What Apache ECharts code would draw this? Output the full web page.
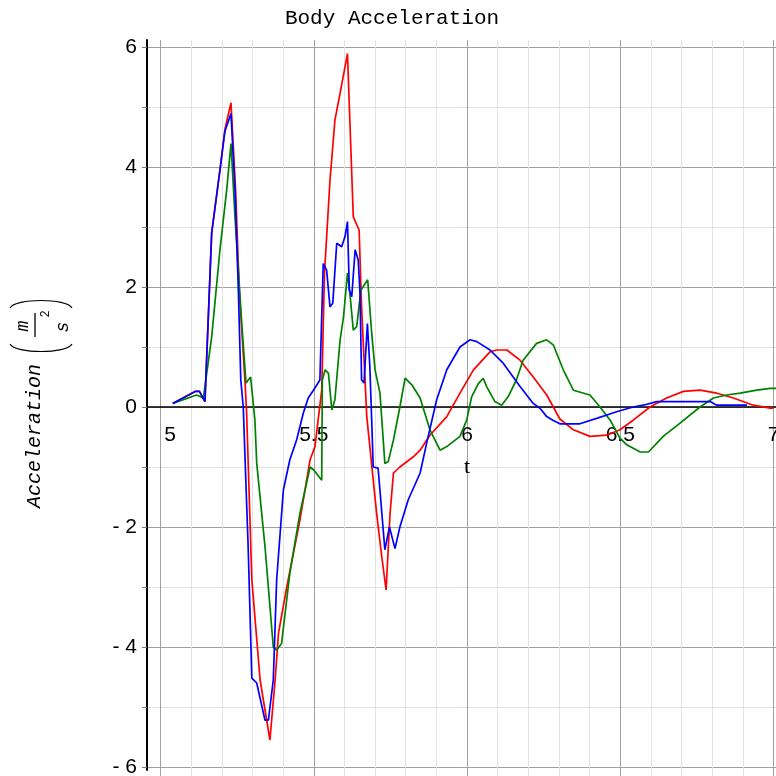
<!DOCTYPE html>
<html><head><meta charset="utf-8">
<script src="https://cdn.jsdelivr.net/npm/echarts@6/dist/echarts.min.js"></script>
<style>html,body{margin:0;padding:0;background:#fff}#c{width:776px;height:776px}</style>
</head><body><div id="c"></div>
<script>
const chartTitle = 'Body Acceleration';
const xName = 't';
const yName = 'Acceleration';
const unitNum = 'm', unitDen = 's', unitPow = '2';

const tRed = [5.04,5.113,5.127,5.145,5.167,5.194,5.21,5.23,5.245,5.257,
  5.276,5.281,5.298,5.325,5.357,5.374,5.385,5.412,5.455,5.488,
  5.504,5.526,5.535,5.553,5.569,5.586,5.61,5.629,5.648,5.656,
  5.673,5.683,5.705,5.722,5.736,5.749,5.76,5.781,5.825,5.847,
  5.879,5.934,5.977,6.021,6.075,6.097,6.13,6.173,6.216,6.26,
  6.303,6.347,6.401,6.456,6.499,6.542,6.597,6.651,6.706,6.76,
  6.815,6.869,6.934,6.989,7.0];
const accRed = [0.06,0.26,0.26,0.09,2.9,3.95,4.62,5.07,3.62,1.95,
  0.4,-0.1,-2.88,-4.55,-5.55,-4.55,-3.77,-3.0,-1.88,-0.88,
  -0.66,0.28,2.23,3.78,4.78,5.23,5.89,3.17,2.95,1.67,
  -0.16,-0.66,-1.77,-2.5,-3.05,-1.77,-1.1,-1.0,-0.83,-0.72,
  -0.47,-0.16,0.23,0.62,0.92,0.95,0.95,0.78,0.5,0.2,
  -0.2,-0.38,-0.49,-0.47,-0.38,-0.22,0.0,0.15,0.26,0.28,
  0.23,0.15,0.03,-0.02,-0.02];

const tGreen = [5.04,5.118,5.14,5.167,5.194,5.216,5.23,5.243,5.265,5.279,
  5.294,5.308,5.314,5.341,5.368,5.379,5.395,5.422,5.455,5.488,
  5.5,5.526,5.528,5.537,5.548,5.559,5.569,5.586,5.597,5.61,
  5.618,5.629,5.64,5.654,5.676,5.689,5.7,5.716,5.732,5.743,
  5.76,5.781,5.798,5.82,5.847,5.879,5.912,5.934,5.977,5.999,
  6.015,6.037,6.053,6.064,6.091,6.113,6.134,6.161,6.183,6.227,
  6.26,6.282,6.314,6.347,6.401,6.434,6.467,6.499,6.521,6.565,
  6.592,6.64,6.695,6.76,6.804,6.847,6.891,6.945,6.989,7.008];
const accGreen = [0.06,0.2,0.15,1.17,2.62,3.62,4.39,3.17,1.4,0.4,
  0.5,-0.22,-0.94,-2.33,-4.0,-4.05,-3.94,-2.77,-1.77,-1.0,
  -1.05,-1.22,0.45,0.62,0.56,-0.05,0.12,1.12,1.5,2.23,
  1.89,1.28,1.34,1.95,2.12,1.23,0.62,0.23,-0.94,-0.91,
  -0.55,0.0,0.48,0.37,0.15,-0.38,-0.72,-0.66,-0.49,-0.22,
  0.17,0.39,0.48,0.34,0.09,0.03,0.17,0.45,0.78,1.06,
  1.12,1.03,0.62,0.28,0.2,0.0,-0.22,-0.52,-0.63,-0.75,
  -0.75,-0.49,-0.27,0.0,0.15,0.2,0.23,0.28,0.31,0.31];

const tBlue = [5.04,5.113,5.127,5.145,5.167,5.194,5.21,5.23,5.243,5.254,
  5.262,5.27,5.286,5.298,5.314,5.341,5.352,5.368,5.379,5.401,
  5.422,5.444,5.466,5.482,5.499,5.52,5.531,5.542,5.553,5.562,
  5.575,5.591,5.602,5.61,5.616,5.624,5.635,5.645,5.651,5.656,
  5.664,5.675,5.683,5.689,5.694,5.71,5.732,5.747,5.765,5.781,
  5.808,5.847,5.868,5.901,5.934,5.977,6.01,6.032,6.075,6.118,
  6.173,6.216,6.238,6.26,6.28,6.303,6.368,6.423,6.488,6.542,
  6.575,6.619,6.793,6.815,6.913];
const accBlue = [0.06,0.26,0.26,0.09,2.9,3.95,4.59,4.89,3.62,1.95,
  0.45,0.0,-2.33,-4.52,-4.6,-5.22,-5.22,-4.55,-2.88,-1.38,
  -0.88,-0.55,-0.1,0.15,0.28,0.45,2.39,2.28,1.67,1.73,
  2.73,2.67,2.84,3.09,1.95,1.84,2.62,2.45,1.89,0.45,
  0.4,1.39,0.67,-0.22,-1.0,-1.02,-2.38,-2.0,-2.36,-2.0,
  -1.55,-1.1,-0.61,0.12,0.62,1.0,1.12,1.09,0.95,0.73,
  0.34,0.06,-0.02,-0.16,-0.22,-0.28,-0.28,-0.19,-0.08,0.0,
  0.03,0.09,0.09,0.03,0.03];

const xTickStep = 0.1, xLabelStep = 0.5;
const yTickStep = 1, yLabelStep = 2;

const zip = (t, a) => t.map((v, i) => [v, a[i]]);
const MAJOR = '#a0a0a0', MINOR = '#e3e3e3';
const LBL = {fontFamily: '"Liberation Sans", sans-serif', fontSize: 21, color: '#000'};

const chart = echarts.init(document.getElementById('c'), null, {renderer: 'canvas'});
const mk = (name, t, a, color) => ({
  name, type: 'line', xAxisIndex: 0, yAxisIndex: 0, data: zip(t, a),
  symbol: 'none', smooth: false, lineStyle: {color, width: 1.7}, z: 5
});

chart.setOption({
  animation: false,
  backgroundColor: '#fff',
  grid: [
    {left: 147, top: 47, width: 629, height: 720, outerBoundsMode: 'none', containLabel: false},
    {left: 160.5, top: 40, width: 613, height: 736, outerBoundsMode: 'none', containLabel: false},
    {left: 160.5, top: 40, width: 613, height: 367, outerBoundsMode: 'none', containLabel: false},
    {left: 147, top: 40, width: 629, height: 730, outerBoundsMode: 'none', containLabel: false}
  ],
  xAxis: [
    {gridIndex: 0, type: 'value', min: 4.956, max: 7.008,
     axisLine: {show: true, onZero: true, lineStyle: {color: '#000', width: 1.5}},
     axisTick: {show: false}, axisLabel: {show: false}, splitLine: {show: false}},
    {gridIndex: 1, type: 'value', min: 5, max: 7, interval: xTickStep, position: 'bottom',
     axisLine: {show: false, onZero: false}, axisTick: {show: false}, axisLabel: {show: false},
     splitLine: {show: true, lineStyle: {color: [MAJOR, MINOR, MINOR, MINOR, MINOR], width: 1}}},
    {gridIndex: 2, type: 'value', min: 5, max: 7, interval: xLabelStep, position: 'bottom',
     axisLine: {show: false, onZero: false}, axisTick: {show: false}, splitLine: {show: false},
     axisLabel: Object.assign({}, LBL, {margin: 18,
       formatter: v => {
         const r = Math.round(v * 10) / 10;
         return r === 5 ? '{f|5}' : String(r);
       },
       rich: {f: Object.assign({}, LBL, {padding: [0, 0, 0, 19]})}
     }),
     name: xName, nameLocation: 'middle', nameGap: 49,
     nameTextStyle: {fontFamily: '"Liberation Serif", serif', fontSize: 22, color: '#000'}},
    {gridIndex: 3, type: 'value', min: 0, max: 1, show: false}
  ],
  yAxis: [
    {gridIndex: 0, type: 'value', min: -6, max: 6, interval: yTickStep,
     axisLine: {show: false, onZero: false},
     axisTick: {show: true, length: 5, lineStyle: {color: '#777'}},
     axisLabel: Object.assign({}, LBL, {margin: 10,
       formatter: v => (Math.round(v) % yLabelStep !== 0) ? '' : (v < 0 ? '- ' + (-v) : String(v))}),
     splitLine: {show: true, lineStyle: {color: [MAJOR, MINOR], width: 1}}},
    {gridIndex: 1, type: 'value', min: -1, max: 1, show: false},
    {gridIndex: 2, type: 'value', min: 0, max: 1, show: false},
    {gridIndex: 3, type: 'value', min: 0, max: 1, position: 'left',
     axisLine: {show: true, onZero: false, lineStyle: {color: '#000', width: 2}},
     axisTick: {show: false}, axisLabel: {show: false}, splitLine: {show: false}}
  ],
  series: [
    mk('x', tRed, accRed, '#ff0000'),
    mk('y', tGreen, accGreen, '#008000'),
    mk('z', tBlue, accBlue, '#0000ff')
  ],
  graphic: [
    {type: 'text', x: 392, y: 18.5, style: {text: chartTitle, font: '21px "Liberation Mono", monospace',
      fill: '#000', align: 'center', verticalAlign: 'middle'}},
    {type: 'group', x: 35, y: 436, rotation: Math.PI / 2, children: [
      {type: 'text', x: 0, y: 0, style: {text: yName, font: 'italic 20px "Liberation Mono", monospace',
        fill: '#000', align: 'center', verticalAlign: 'middle'}},
      {type: 'bezierCurve', shape: {x1: 92, y1: -25, cpx1: 82, cpy1: -20, cpx2: 82, cpy2: 32, x2: 92, y2: 37},
        style: {stroke: '#000', fill: null, lineWidth: 1.2}},
      {type: 'bezierCurve', shape: {x1: 128, y1: -25, cpx1: 138, cpy1: -20, cpx2: 138, cpy2: 32, x2: 128, y2: 37},
        style: {stroke: '#000', fill: null, lineWidth: 1.2}},
      {type: 'text', x: 110, y: -12, style: {text: unitNum, font: 'italic 18px "Liberation Mono", monospace',
        fill: '#000', align: 'center', verticalAlign: 'middle'}},
      {type: 'line', shape: {x1: 99, y1: 0, x2: 123, y2: 0}, style: {stroke: '#000', lineWidth: 1.3}},
      {type: 'text', x: 109, y: 28, style: {text: unitDen, font: 'italic 18px "Liberation Mono", monospace',
        fill: '#000', align: 'center', verticalAlign: 'middle'}},
      {type: 'text', x: 122, y: 11, style: {text: unitPow, font: '12px "Liberation Mono", monospace',
        fill: '#000', align: 'center', verticalAlign: 'middle'}}
    ]}
  ]
});
</script>
</body></html>
